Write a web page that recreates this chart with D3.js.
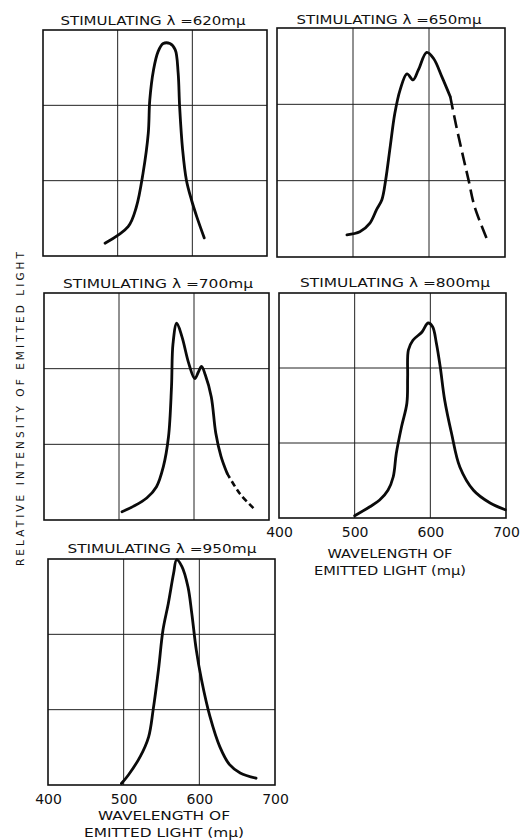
<!DOCTYPE html>
<html>
<head>
<meta charset="utf-8">
<script src="https://cdn.jsdelivr.net/npm/d3@7"></script>
<style>
    body { margin: 0; background: #fff; }
    svg { display: block; }
    text { font-family: "DejaVu Sans", "Liberation Sans", sans-serif; fill: #111; }
</style>
</head>
<body>
<div id="chart"></div>
<script>
// emission spectra, wavelength in m-mu, intensity in grid units (0..3)
var stimulating = [620, 650, 700, 800, 950];
var tickValues = [400, 500, 600, 700];
var yGrid = [1, 2];

var wl620 = [483, 514, 525, 534, 541, 543, 548, 554, 561, 570, 577, 581, 583, 587, 592, 599, 606, 616];
var int620 = [0.17, 0.39, 0.65, 1.10, 1.63, 2.07, 2.47, 2.71, 2.82, 2.82, 2.74, 2.43, 1.98, 1.41, 1.01, 0.74, 0.52, 0.24];

var wl650 = [492, 509, 522, 531, 538, 543, 549, 555, 562, 571, 579, 586, 597, 606, 617, 628, 636, 645, 652, 660, 676];
var int650 = [0.29, 0.33, 0.44, 0.62, 0.75, 1.01, 1.45, 1.88, 2.19, 2.40, 2.32, 2.45, 2.68, 2.60, 2.36, 2.10, 1.71, 1.31, 1.01, 0.66, 0.24];

var wl700 = [504, 519, 537, 550, 559, 566, 570, 572, 577, 584, 593, 601, 606, 610, 615, 623, 629, 636, 644, 661, 680];
var int700 = [0.11, 0.18, 0.29, 0.44, 0.70, 1.10, 1.76, 2.33, 2.60, 2.42, 2.07, 1.87, 1.96, 2.03, 1.92, 1.63, 1.15, 0.84, 0.62, 0.35, 0.15];

var wl800 = [500, 520, 533, 544, 551, 555, 562, 569, 570, 571, 577, 589, 597, 603, 608, 613, 619, 628, 639, 657, 679, 699];
var int800 = [0.03, 0.15, 0.24, 0.37, 0.55, 0.86, 1.22, 1.53, 1.88, 2.24, 2.37, 2.48, 2.60, 2.55, 2.33, 2.02, 1.57, 1.13, 0.68, 0.37, 0.20, 0.11];

var wl950 = [497, 506, 522, 533, 539, 546, 552, 559, 566, 570, 577, 585, 590, 596, 603, 614, 627, 640, 654, 675];
var int950 = [0.02, 0.13, 0.38, 0.64, 1.00, 1.53, 2.06, 2.41, 2.81, 2.99, 2.90, 2.63, 2.28, 1.79, 1.39, 0.91, 0.51, 0.27, 0.16, 0.09];

// wavelength where the curve turns dashed (null = all solid)
var dashFrom = [null, 628, 644, null, null];

var series = [
    {wl: wl620, val: int620},
    {wl: wl650, val: int650},
    {wl: wl700, val: int700},
    {wl: wl800, val: int800},
    {wl: wl950, val: int950}
];

// panel boxes and label placement
var panels = [
    {x0: 43, x1: 267, y0: 30, y1: 256, tx: 153, ty: 25, tw: 185, axis: false, dash: null},
    {x0: 277, x1: 505, y0: 28, y1: 257, tx: 389, ty: 24, tw: 185, axis: false, dash: '13,6'},
    {x0: 44, x1: 269, y0: 293, y1: 520, tx: 158, ty: 288, tw: 190, axis: false, dash: '6,3.5'},
    {x0: 279, x1: 506, y0: 293, y1: 518, tx: 395, ty: 287, tw: 190, axis: true, dash: null, ax: 390, ay: 558},
    {x0: 48, x1: 275, y0: 559, y1: 785, tx: 162, ty: 553, tw: 189, axis: true, dash: null, ax: 164, ay: 820}
];

var svg = d3.select('#chart').append('svg').attr('width', 521).attr('height', 840);

panels.forEach(function(p, i) {
    var x = d3.scaleLinear().domain([400, 700]).range([p.x0, p.x1]);
    var y = d3.scaleLinear().domain([0, 3]).range([p.y1, p.y0]);
    var g = svg.append('g').attr('class', 'panel');

    // grid
    g.selectAll('line.vgrid').data([500, 600]).enter().append('line')
        .attr('class', 'vgrid')
        .attr('x1', function(d) { return x(d); }).attr('x2', function(d) { return x(d); })
        .attr('y1', p.y0).attr('y2', p.y1)
        .attr('stroke', '#222').attr('stroke-width', 1);
    g.selectAll('line.hgrid').data(yGrid).enter().append('line')
        .attr('class', 'hgrid')
        .attr('x1', p.x0).attr('x2', p.x1)
        .attr('y1', function(d) { return y(d); }).attr('y2', function(d) { return y(d); })
        .attr('stroke', '#222').attr('stroke-width', 1);

    g.append('rect')
        .attr('x', p.x0).attr('y', p.y0)
        .attr('width', p.x1 - p.x0).attr('height', p.y1 - p.y0)
        .attr('fill', 'none').attr('stroke', '#111').attr('stroke-width', 1.6);

    // curve
    var s = series[i];
    var pts = s.wl.map(function(w, k) { return [w, s.val[k]]; });
    var line = d3.line()
        .x(function(d) { return x(d[0]); })
        .y(function(d) { return y(d[1]); })
        .curve(d3.curveCatmullRom.alpha(0.5));

    var cut = dashFrom[i];
    var solid = cut == null ? pts : pts.filter(function(d) { return d[0] <= cut; });
    g.append('path').datum(solid)
        .attr('d', line)
        .attr('fill', 'none').attr('stroke', '#0a0a0a')
        .attr('stroke-width', 2.8).attr('stroke-linecap', 'round').attr('stroke-linejoin', 'round');
    if (cut != null) {
        var dashed = pts.filter(function(d) { return d[0] >= cut; });
        g.append('path').datum(dashed)
            .attr('d', line)
            .attr('fill', 'none').attr('stroke', '#0a0a0a')
            .attr('stroke-width', 2.6).attr('stroke-dasharray', p.dash);
    }

    // title
    g.append('text')
        .attr('x', p.tx).attr('y', p.ty)
        .attr('text-anchor', 'middle')
        .attr('font-size', 12.5)
        .attr('textLength', p.tw).attr('lengthAdjust', 'spacingAndGlyphs')
        .text('STIMULATING \u03bb  =' + stimulating[i] + 'm\u03bc');

    if (p.axis) {
        var ax = g.append('g')
            .attr('transform', 'translate(0,' + p.y1 + ')')
            .call(d3.axisBottom(x).tickValues(tickValues).tickSize(0).tickPadding(9).tickFormat(d3.format('d')));
        ax.select('.domain').remove();
        ax.selectAll('text')
            .attr('font-size', 14)
            .attr('fill', '#111')
            .style('font-family', '"DejaVu Sans", sans-serif');

        g.append('text')
            .attr('x', p.ax).attr('y', p.ay)
            .attr('text-anchor', 'middle').attr('font-size', 12.5)
            .attr('textLength', i === 3 ? 125 : 132).attr('lengthAdjust', 'spacingAndGlyphs')
            .text('WAVELENGTH  OF');
        g.append('text')
            .attr('x', p.ax).attr('y', p.ay + 17)
            .attr('text-anchor', 'middle').attr('font-size', 12.5)
            .attr('textLength', i === 3 ? 152 : 160).attr('lengthAdjust', 'spacingAndGlyphs')
            .text('EMITTED LIGHT (m\u03bc)');
    }
});

// shared y label
svg.append('text')
    .attr('transform', 'translate(24,409) rotate(-90)')
    .attr('text-anchor', 'middle')
    .attr('font-size', 10.5)
    .attr('textLength', 314).attr('lengthAdjust', 'spacing')
    .text('RELATIVE  INTENSITY  OF  EMITTED  LIGHT');
</script>
</body>
</html>
